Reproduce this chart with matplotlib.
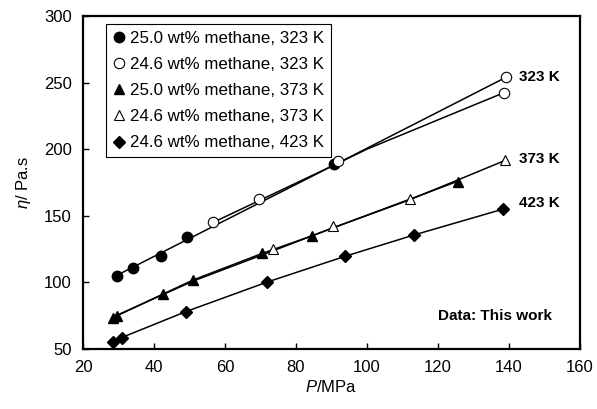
import numpy as np
from matplotlib import pyplot as plt

plt.rcParams['font.family'] = ['Liberation Sans', 'DejaVu Sans']
plt.rcParams['mathtext.fontset'] = 'custom'
plt.rcParams['mathtext.it'] = 'Liberation Sans:italic'

# 25.0 wt% methane, 323 K
p_c323 = [29.7, 34.2, 41.9, 49.4, 90.7]
eta_c323 = [105.0, 111.0, 120.0, 134.0, 188.5]
# 24.6 wt% methane, 323 K
p_o323 = [56.7, 69.7, 91.9, 138.6, 139.2]
eta_o323 = [145.5, 162.4, 191.4, 242.4, 254.0]
# 25.0 wt% methane, 373 K
p_t373 = [28.5, 29.5, 42.4, 51.1, 70.3, 84.6, 125.7]
eta_t373 = [73.0, 75.0, 91.0, 101.8, 121.8, 135.0, 175.6]
# 24.6 wt% methane, 373 K
p_ot373 = [73.4, 90.5, 112.1, 138.9]
eta_ot373 = [125.0, 142.5, 162.4, 191.5]
# 24.6 wt% methane, 423 K
p_d423 = [28.5, 30.9, 49.0, 71.7, 93.8, 113.2, 138.4]
eta_d423 = [55.5, 58.5, 78.0, 100.0, 119.5, 135.5, 155.0]

# correlation lines
line1_p = [29.0, 90.7, 139.2]
line1_eta = [104.5, 188.0, 254.0]
line2_p = [56.7, 91.9, 100.0, 138.6]
line2_eta = [145.0, 189.5, 200.0, 242.4]
line3_p = [28.5, 42.4, 51.1, 70.3, 84.6, 125.7]
line3_eta = [73.5, 91.0, 101.8, 121.5, 135.0, 176.0]
line4_p = [28.5, 51.1, 73.4, 90.5, 112.1, 138.9]
line4_eta = [74.0, 101.0, 123.5, 141.0, 162.0, 191.5]
line5_p = [28.5, 30.9, 49.0, 71.7, 93.8, 113.2, 138.4]
line5_eta = [56.0, 58.5, 78.0, 100.0, 119.5, 135.5, 155.0]

temp_labels = ['323 K', '373 K', '423 K']
temp_eta = [254, 192.5, 159.5]

fig = plt.figure(figsize=(5.97, 4.09), dpi=100)
ax = fig.add_axes([0.139, 0.147, 0.8325, 0.814])

for lp, le in [(line1_p, line1_eta), (line2_p, line2_eta), (line3_p, line3_eta),
               (line4_p, line4_eta), (line5_p, line5_eta)]:
    ax.plot(lp, le, color='black', lw=1.1, zorder=1)

ms = 7.5
ax.plot(p_c323, eta_c323, 'o', color='black', ms=ms, ls='none',
        label='25.0 wt% methane, 323 K', zorder=3)
ax.plot(p_o323, eta_o323, 'o', mfc='white', mec='black', mew=0.8, ms=ms, ls='none',
        label='24.6 wt% methane, 323 K', zorder=3)
ax.plot(p_t373, eta_t373, '^', color='black', ms=ms, ls='none',
        label='25.0 wt% methane, 373 K', zorder=3)
ax.plot(p_ot373, eta_ot373, '^', mfc='white', mec='black', mew=0.8, ms=ms, ls='none',
        label='24.6 wt% methane, 373 K', zorder=3)
ax.plot(p_d423, eta_d423, 'D', color='black', ms=6.5, ls='none',
        label='24.6 wt% methane, 423 K', zorder=3)

for lab, e in zip(temp_labels, temp_eta):
    ax.text(142.8, e, lab, fontsize=11, fontweight='bold', va='center', ha='left')
ax.text(120, 75, 'Data: This work', fontsize=11, fontweight='bold', va='center', ha='left')

ax.set_xlim(20, 160)
ax.set_ylim(50, 300)
ax.set_xticks(np.arange(20, 161, 20))
ax.set_yticks(np.arange(50, 301, 50))
ax.tick_params(direction='in', labelsize=12, length=4, width=1, pad=8)
for s in ax.spines.values():
    s.set_linewidth(1.6)

ax.set_xlabel('$P$/MPa', fontsize=12, labelpad=3)
ax.set_ylabel('$\\eta$/ Pa.s', fontsize=12, labelpad=8)

leg = ax.legend(loc='upper left', bbox_to_anchor=(0.046, 0.976), fontsize=12.2,
                frameon=True, fancybox=False, edgecolor='black', framealpha=1,
                handlelength=0.7, handletextpad=0.35, labelspacing=0.66,
                borderpad=0.4, borderaxespad=0)
leg.get_frame().set_linewidth(0.8)

plt.savefig('out.png', dpi=100)
